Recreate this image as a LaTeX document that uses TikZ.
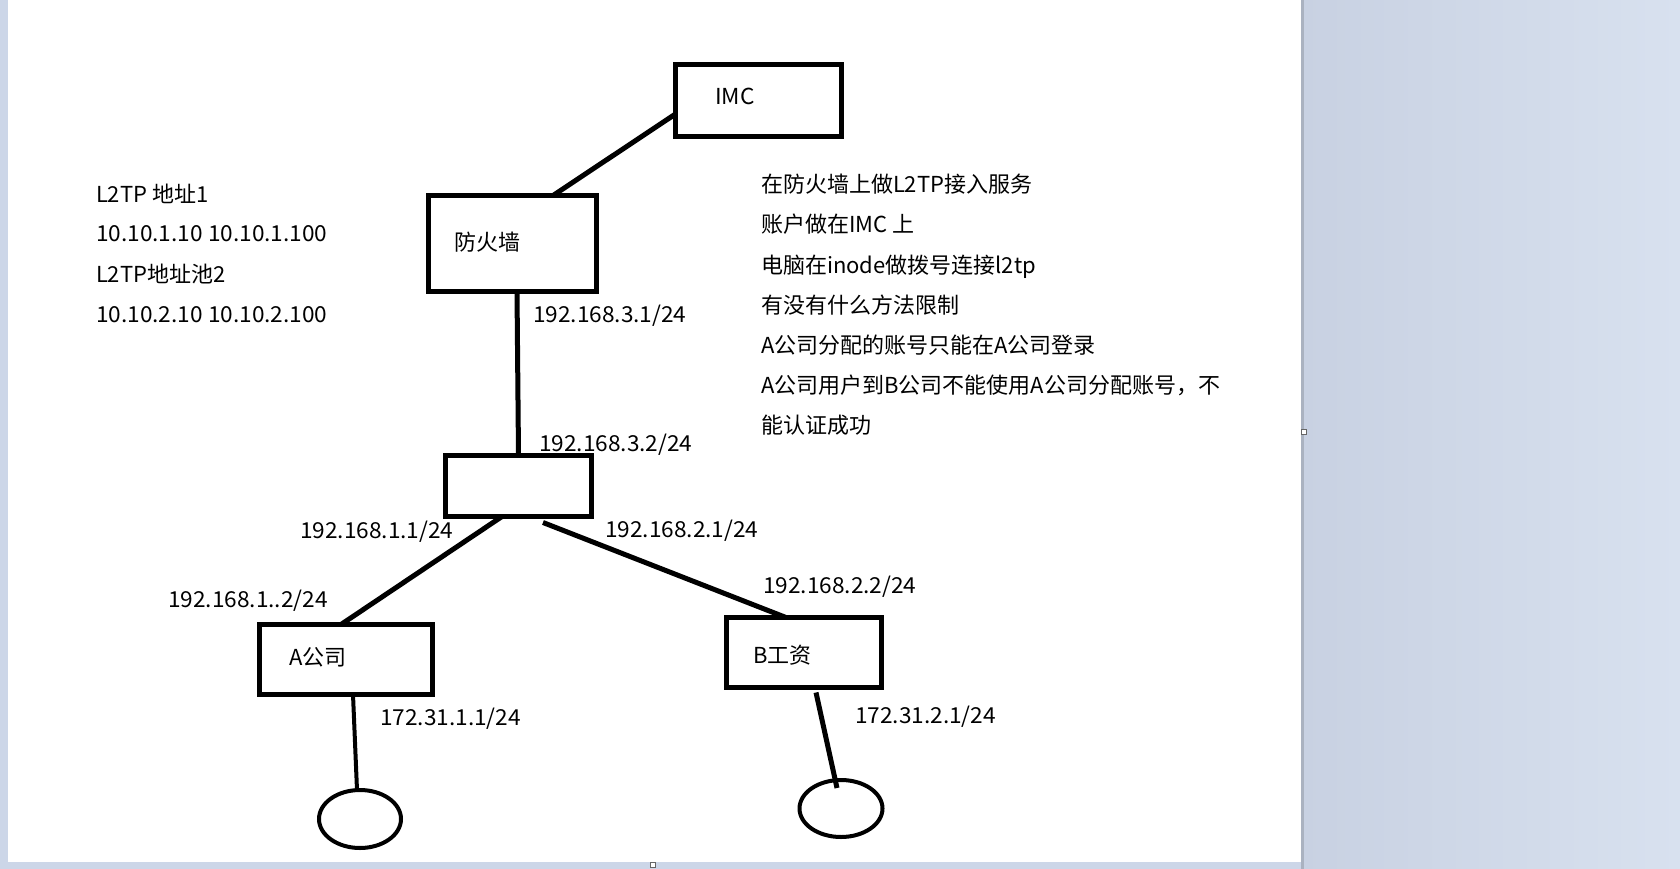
\documentclass[tikz,border=0pt]{standalone}
\usepackage{fontspec}
\setmainfont{Noto Sans CJK SC}
\newfontfamily\numfont{Noto Sans CJK SC}[FakeStretch=1.03]
\usetikzlibrary{shapes.geometric}
\begin{document}
\begin{tikzpicture}[x=1pt,y=-1pt,
  box/.style={draw=black,line width=5pt,rectangle,inner sep=0pt,outer sep=0pt},
  oval/.style={draw=black,line width=4pt,ellipse,inner sep=0pt,outer sep=0pt},
  link/.style={draw=black,line width=5pt},
  thinlink/.style={draw=black,line width=4pt},
  lbl/.style={anchor=base west,inner sep=0pt,outer sep=0pt,font=\fontsize{22}{26}\selectfont,text=black},
  numlbl/.style={lbl,font=\fontsize{22}{26}\numfont},
  handle/.style={draw=black!60,fill=white,line width=0.8pt,minimum size=5pt,inner sep=0pt}]
% background
\useasboundingbox (0,0) rectangle (1680,869);
\fill[color={rgb,255:red,204;green,214;blue,232}] (0,0) rectangle (1680,869);
\shade[left color={rgb,255:red,200;green,209;blue,226},right color={rgb,255:red,216;green,225;blue,239}] (1301,0) rectangle (1680,869);
\fill[color={rgb,255:red,170;green,178;blue,192}] (1301,0) rectangle (1304,869);
\fill[white] (8,0) rectangle (1301,862);
\node[handle] (h1) at (1304,432) {};
\node[handle] (h2) at (653,865) {};
% boxes
\node[box,minimum width=166pt,minimum height=72pt] (imc) at (758.5,100.5) {};
\node[box,minimum width=168pt,minimum height=96pt] (fw) at (512.5,243.5) {};
\node[box,minimum width=146pt,minimum height=61pt] (sw) at (518.5,486) {};
\node[box,minimum width=173pt,minimum height=70pt] (ca) at (346,659.5) {};
\node[box,minimum width=155pt,minimum height=70pt] (cb) at (804,652.5) {};
\node[oval,minimum width=82pt,minimum height=58pt] (ea) at (360,819) {};
\node[oval,minimum width=83pt,minimum height=57pt] (eb) at (841,808.5) {};
% box texts
\node[numlbl] (imcT) at (715,105) {IMC};
\node[lbl] (fwT) at (454,250) {防火墙};
\node[lbl] (caT) at (289,665) {A公司};
\node[lbl] (cbT) at (753,663) {B工资};
% connectors
\draw[link] ([yshift=-13.5pt]imc.west) -- ([xshift=40.5pt]fw.north);
\draw[link] ([xshift=4.5pt]fw.south) -- (sw.north);
\draw[link] ([xshift=-16.5pt]sw.south) -- ([xshift=-5pt]ca.north);
\draw[link] ([xshift=24.5pt,yshift=-6pt]sw.south) -- ([xshift=-18pt]cb.north);
\draw[thinlink] ([xshift=7pt]ca.south) -- ([xshift=-3pt]ea.north);
\draw[link] ([xshift=12pt,yshift=-5pt]cb.south) -- ([xshift=-4pt,yshift=-8pt]eb.north);
% interface labels
\node[numlbl] (l31) at (533,322) {192.168.3.1/24};
\node[numlbl] (l32) at (539,451) {192.168.3.2/24};
\node[numlbl] (l11) at (300,538) {192.168.1.1/24};
\node[numlbl] (l21) at (605,537) {192.168.2.1/24};
\node[numlbl] (l12) at (168,607) {192.168.1..2/24};
\node[numlbl] (l22) at (763,593) {192.168.2.2/24};
\node[numlbl] (l171) at (380,725) {172.31.1.1/24};
\node[numlbl] (l172) at (855,723) {172.31.2.1/24};
% left notes
\node[lbl] (n1) at (96,202) {L2TP 地址1};
\node[numlbl] (n2) at (96,241) {10.10.1.10 10.10.1.100};
\node[lbl] (n3) at (96,282) {L2TP地址池2};
\node[numlbl] (n4) at (96,322) {10.10.2.10 10.10.2.100};
% right notes
\node[lbl] (r1) at (761,193) {在防火墙上做L2TP接入服务};
\node[lbl] (r2) at (761,233) {账户做在IMC 上};
\node[lbl] (r3) at (761,273) {电脑在inode做拨号连接l2tp};
\node[lbl] (r4) at (761,313) {有没有什么方法限制};
\node[lbl] (r5) at (761,353) {A公司分配的账号只能在A公司登录};
\node[lbl] (r6) at (761,393) {A公司用户到B公司不能使用A公司分配账号，不};
\node[lbl] (r7) at (761,433) {能认证成功};
\end{tikzpicture}
\end{document}
